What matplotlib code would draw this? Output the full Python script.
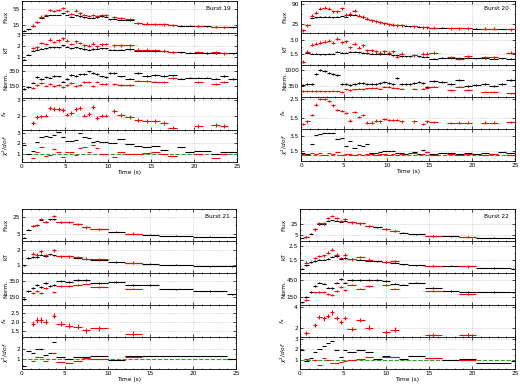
import numpy as np
import matplotlib.pyplot as plt
from matplotlib.ticker import AutoMinorLocator

plt.rcParams['font.family'] = 'DejaVu Sans'
plt.rcParams['font.size'] = 4.2
plt.rcParams['axes.linewidth'] = 0.6
plt.rcParams['xtick.direction'] = 'in'
plt.rcParams['ytick.direction'] = 'in'
plt.rcParams['xtick.top'] = True
plt.rcParams['ytick.right'] = True
plt.rcParams['xtick.major.size'] = 2.0
plt.rcParams['ytick.major.size'] = 2.0
plt.rcParams['xtick.minor.size'] = 1.0
plt.rcParams['ytick.minor.size'] = 1.0
plt.rcParams['xtick.major.width'] = 0.5
plt.rcParams['ytick.major.width'] = 0.5
plt.rcParams['xtick.minor.width'] = 0.4
plt.rcParams['ytick.minor.width'] = 0.4
plt.rcParams['xtick.major.pad'] = 1.5
plt.rcParams['ytick.major.pad'] = 1.5

# ---------------- Burst 19 ----------------
b19_edges = [0, 0.5, 1, 1.5, 2, 2.5, 3, 3.5, 4, 4.5, 5, 5.5, 6, 6.5, 7, 7.5, 8, 8.5,
             9, 9.5, 10, 10.5, 11, 12, 13, 14, 15, 16, 17, 18, 19, 20, 21, 22, 23, 24, 25]
b19_red_bins = list(range(2, 20)) + [21, 22, 23, 24, 25, 26, 27, 28, 31, 33, 34]
b19_flux_k = [0, 4, 12.5, 21, 32, 37.5, 40, 40, 40, 44, 40, 36, 39, 37, 34, 32, 32.5, 34, 36.7, 36,
              29, 30, 27.5, 26.7, 19, 18, 16.7, 16, 14, 13.3, 12.5, 11.7, 11, 10, 9, 9]
b19_flux_r = [13, 22, 36, 40, 52, 50, 52, 58, 50, 42, 51, 44, 40, 37.5, 40, 38, 40, 40,
              34, 32, 29, 19, 18, 16.7, 16, 14, 11.7, 10, 9]
b19_kt_k = [0.75, 1.2, 1.6, 1.68, 1.77, 1.83, 1.9, 1.92, 1.9, 2.08, 1.95, 1.83, 1.92, 1.8, 1.74,
            1.68, 1.74, 1.77, 1.83, 1.8, 1.68, 1.68, 1.68, 1.74, 1.6, 1.58, 1.55, 1.52, 1.43,
            1.43, 1.4, 1.4, 1.37, 1.37, 1.34, 1.34]
b19_kt_r = [1.83, 1.9, 2.3, 2.2, 2.6, 2.4, 2.55, 2.72, 2.5, 2.2, 2.45, 2.3, 2.08, 2.05, 2.23, 1.98,
            2.17, 2.2, 2.08, 2.08, 2.08, 1.68, 1.68, 1.65, 1.6, 1.46, 1.46, 1.43, 1.34]
b19_norm_k = [98, 126, 193, 274, 240, 269, 264, 283, 279, 207, 245, 302, 288, 307, 317, 350, 326,
              312, 279, 269, 326, 331, 279, 250, 331, 288, 302, 288, 293, 250, 264, 264, 264,
              250, 288, 245]
b19_norm_r = [112, 160, 183, 150, 169, 145, 160, 126, 155, 183, 145, 160, 202, 207, 145, 207, 169,
              169, 169, 160, 155, 221, 212, 207, 202, 255, 198, 169, 198]
b19_fa_r = [1.58, 1.96, 2.0, 2.06, 2.52, 2.48, 2.48, 2.38, 2.12, 2.2, 2.48, 2.52, 2.06, 2.17, 2.58,
            1.92, 2.06, 2.06, 2.33, 2.1, 1.96, 1.79, 1.75, 1.73, 1.62, 1.33, 1.42, 1.48, 1.44]
b19_chi_k = [1.89, 0.94, 1.25, 2.17, 2.65, 2.75, 2.65, 2.84, 3.13, 2.59, 2.27, 2.27, 2.37, 3.0,
             2.59, 2.49, 2.17, 2.27, 2.11, 2.11, 2.05, 2.05, 2.43, 1.95, 1.73, 1.7, 1.79, 1.41,
             0.78, 1.63, 1.16, 1.25, 1.32, 1.0, 1.22, 1.16]
b19_chi_r = [0.59, 1.22, 1.63, 0.81, 0.9, 1.48, 1.16, 0.68, 1.22, 1.16, 0.9, 1.54, 1.63, 1.22, 1.89,
             1.54, 1.0, 1.0, 0.68, 1.16, 1.0, 1.0, 1.1, 1.16, 1.0, 0.75, 1.0, 0.59, 1.0]

# ---------------- Burst 20 ----------------
b20_edges = [0, 0.5, 1, 1.5, 2, 2.5, 3, 3.5, 4, 4.5, 5, 5.5, 6, 6.5, 7, 7.5, 8, 8.5, 9, 9.5, 10,
             10.5, 11, 11.5, 12, 12.5, 13, 13.5, 14, 14.5, 15, 16, 17, 18, 19, 20, 21, 22, 23, 24, 25]
b20_red_bins = list(range(0, 24)) + [26, 28, 29, 30, 32, 33, 34, 36, 37, 39]
b20_flux_k = [3, 19.5, 44, 47, 49, 49, 49, 47, 49, 51, 49, 54, 55, 51, 47, 41.5, 37, 34, 30.5, 27,
              24, 22, 20.6, 19.5, 18.4, 16, 16, 15, 14, 13, 12, 12, 10.7, 9.6, 9.6, 8.5, 8.5,
              7.4, 7.4, 6.3]
b20_flux_r = [3, 19.5, 51.5, 62.5, 74.5, 79, 74.5, 66, 66, 77, 55, 58, 69, 51.5, 49, 41.5, 37, 34,
              30.5, 27, 24, 22, 20.6, 19.5, 16, 14, 13, 12, 10.7, 9.6, 9.6, 8.5, 7.4, 6.3]
b20_kt_k = [0.77, 1.67, 1.57, 1.57, 1.5, 1.5, 1.57, 1.57, 1.77, 1.67, 1.67, 1.77, 1.77, 1.73, 1.67,
            1.6, 1.57, 1.57, 1.5, 1.57, 1.5, 1.43, 1.4, 1.33, 1.33, 1.33, 1.4, 1.33, 1.27, 1.27,
            1.07, 1.17, 1.17, 1.1, 1.17, 1.1, 1.1, 1.07, 1.1, 1.07]
b20_kt_r = [0.77, 1.77, 2.5, 2.57, 2.67, 2.77, 2.9, 2.67, 3.07, 2.73, 2.83, 2.23, 2.57, 2.17, 2.43,
            1.9, 1.9, 1.83, 1.67, 1.83, 1.67, 1.83, 1.27, 1.57, 1.4, 1.57, 1.57, 1.67, 1.23, 1.07,
            1.33, 1.23, 1.23, 1.67]
b20_norm_k = [377, 418, 418, 824, 1000, 959, 892, 824, 783, 418, 445, 390, 445, 458, 458, 418, 445,
              418, 485, 512, 458, 418, 688, 418, 418, 418, 485, 512, 458, 323, 553, 512, 418, 594,
              350, 377, 445, 350, 418, 580]
b20_norm_r = [147, 147, 147, 147, 147, 133, 133, 160, 133, 120, 215, 187, 215, 242, 215, 255, 282,
              282, 242, 323, 323, 282, 255, 242, 242, 242, 255, 323, 187, 323, 187, 120, 120, 52]
b20_fa_r = [1.17, 1.3, 1.67, 2.22, 2.5, 2.5, 2.41, 2.17, 1.94, 1.85, 1.76, 1.35, 1.8, 1.54, 1.67,
            1.24, 1.24, 1.35, 1.3, 1.43, 1.39, 1.39, 1.39, 1.3, 1.3, 1.17, 1.3, 1.28, 1.2, 1.24,
            1.24, 1.24, 1.24, 1.28]
b20_chi_k = [1.29, 1.2, 2.44, 3.63, 3.71, 3.84, 3.93, 3.93, 3.12, 3.2, 2.14, 2.86, 1.93, 2.35, 2.14,
             2.48, 1.29, 1.29, 1.37, 1.5, 1.59, 1.5, 1.29, 1.29, 1.2, 1.29, 1.37, 1.16, 1.71, 1.37,
             1.2, 1.29, 1.29, 1.2, 1.29, 1.16, 1.29, 1.2, 1.37, 1.29]
b20_chi_r = [1.2, 1.07, 1.29, 1.2, 1.29, 1.07, 1.29, 1.16, 1.37, 1.07, 1.2, 1.16, 1.07, 1.16, 1.07,
             1.16, 1.2, 1.07, 1.2, 1.16, 1.07, 1.2, 1.07, 1.16, 1.29, 1.2, 1.37, 1.07, 1.2, 1.07,
             1.16, 1.07, 1.16, 1.07]

# ---------------- Burst 21 ----------------
b21_edges = [0, 0.5, 1, 1.5, 2, 2.5, 3, 3.5, 4, 5, 6, 7, 8, 10, 12, 14, 16, 20, 24, 25]
b21_red_bins = [2, 3, 4, 5, 7, 8, 9, 10, 11, 12, 14]
b21_flux_k = [1.15, 10.4, 14.6, 15.4, 21.2, 19.2, 22.3, 22.3, 18.5, 18.8, 16.5, 12.7, 10.8, 8.1,
              5.8, 4.6, 3.5, 2.3, 1.9]
b21_flux_r = [14.6, 15.4, 22.3, 19.2, 26.2, 18.5, 19.2, 16.5, 12.7, 10.8, 5.8]
b21_kt_k = [0.95, 1.47, 1.53, 1.53, 1.7, 1.58, 1.72, 1.65, 1.58, 1.58, 1.49, 1.42, 1.35, 1.19,
            1.14, 1.07, 1.0, 0.88, 0.88]
b21_kt_r = [1.77, 1.7, 1.93, 1.65, 2.0, 1.6, 1.6, 1.53, 1.42, 1.37, 1.14]
b21_norm_k = [117, 221, 263, 304, 275, 329, 283, 296, 346, 338, 358, 358, 329, 338, 296, 304, 242,
              221, 179]
b21_norm_r = [192, 221, 200, 263, 204, 283, 283, 304, 317, 275, 254]
b21_fa_r = [1.9, 2.1, 2.1, 2.0, 2.35, 1.9, 1.77, 1.71, 1.52, 1.62, 1.33]
b21_chi_k = [0.39, 1.79, 1.55, 2.0, 2.0, 1.45, 1.55, 2.6, 1.24, 1.03, 1.24, 1.18, 1.3, 0.94, 1.3,
             1.33, 1.3, 1.3, 1.03]
b21_chi_r = [0.85, 1.18, 1.24, 0.88, 1.6, 0.79, 0.7, 0.88, 1.09, 1.03, 1.24]

# ---------------- Burst 22 ----------------
b22_edges = [0, 0.5, 1, 1.5, 2, 2.5, 3, 3.5, 4, 4.5, 5, 5.5, 6.5, 7.5, 8.5, 9.5, 10.5, 11.5, 12.5,
             14.5, 16.5, 18.5, 20.5, 24.5, 25]
b22_red_bins = [1, 3, 4, 5, 6, 7, 8, 9, 10, 11, 12, 13, 15, 16, 19, 21]
b22_flux_k = [0.15, 2, 8, 15.3, 24.4, 24.4, 31, 32.3, 31, 29.2, 31, 28, 26.2, 21.4, 19, 15.9, 12.9,
              9.2, 6.8, 3.8, 3.2, 2, 0.8, 0.15]
b22_flux_r = [2, 15.3, 26.2, 26.2, 35.3, 40, 35.3, 30.5, 34, 28, 26.2, 21.4, 15.9, 12.9, 3.8, 2]
b22_kt_k = [0.84, 1.09, 1.33, 1.4, 1.5, 1.5, 1.57, 1.7, 1.74, 1.57, 1.62, 1.57, 1.5, 1.43, 1.38,
            1.33, 1.26, 1.16, 1.09, 1.04, 1.04, 1.01, 0.89, 0.84]
b22_kt_r = [1.28, 1.62, 1.77, 1.82, 2.01, 2.23, 1.87, 1.62, 1.87, 1.52, 1.7, 1.5, 1.33, 1.38, 1.04,
            1.01]
b22_norm_k = [48, 150, 240, 348, 408, 390, 318, 312, 408, 468, 408, 450, 450, 450, 450, 432, 390,
              372, 408, 312, 258, 240, 240, 228]
b22_norm_r = [90, 228, 240, 240, 198, 180, 252, 330, 270, 372, 300, 348, 360, 300, 258, 192]
b22_fa_r = [1.52, 2.23, 3.03, 2.87, 3.13, 3.45, 2.94, 2.55, 2.94, 1.84, 2.71, 2.0, 1.58, 1.81,
            1.32, 1.32]
b22_chi_k = [1.94, 0.84, 1.16, 1.72, 2.03, 2.34, 2.63, 2.81, 1.91, 1.31, 1.91, 1.78, 1.94, 1.72,
             1.09, 1.38, 1.31, 1.09, 1.38, 1.22, 1.0, 1.06, 0.69, 0.84]
b22_chi_r = [1.09, 1.0, 0.53, 1.16, 1.0, 0.69, 0.69, 0.75, 0.91, 0.94, 1.06, 1.31, 1.31, 1.25,
             1.16, 0.94]

# typical 1-sigma errors: (black, red) for flux, kT, norm, fa
b19_errs = [(1.0, 3.0), (0.05, 0.12), (12, 12), (0, 0.12)]
b20_errs = [(1.5, 5.0), (0.05, 0.15), (40, 30), (0, 0.06)]
b21_errs = [(0.5, 1.2), (0.05, 0.10), (12, 12), (0, 0.15)]
b22_errs = [(0.8, 2.0), (0.04, 0.10), (15, 15), (0, 0.20)]

ylabels = ['Flux', 'kT', 'Norm.', '$f_a$', r'$\chi^2/dof$']
label_x = [-0.062, -0.062, -0.062, -0.062, -0.05]

W, H = 520, 385


def draw_burst(fig, box, name, edges, red_bins, series, errs, ylims, yticks):
    """box = (left, right, top, bottom) in pixels from the top-left corner"""
    edges = np.asarray(edges, dtype=float)
    t = 0.5 * (edges[1:] + edges[:-1])
    dt = 0.5 * np.diff(edges)
    rb = np.asarray(red_bins)
    left, right, top, bottom = box
    hh = (bottom - top) / 5.0
    axes = []
    for i in range(5):
        ax = fig.add_axes([left / W, 1 - (top + (i + 1) * hh) / H,
                           (right - left) / W, hh / H])
        black, red = series[i]
        ek, er = errs[i] if i < 4 else (0, 0)
        if black is not None:
            ax.errorbar(t, black, yerr=ek if ek else None, xerr=dt, fmt='none',
                        ecolor='black', elinewidth=0.8, capsize=0, zorder=3)
        ax.errorbar(t[rb], red, yerr=er if er else None, xerr=dt[rb], fmt='none',
                    ecolor='red', elinewidth=0.8, capsize=0, zorder=4)
        if i == 4:
            ax.axhline(1.0, color='#2ca02c', ls='--', lw=0.8, zorder=2)
        ax.set_xlim(0, 25)
        ax.set_ylim(*ylims[i])
        ax.set_yticks(yticks[i])
        ax.set_xticks([0, 5, 10, 15, 20, 25])
        ax.xaxis.set_minor_locator(AutoMinorLocator(5))
        ax.yaxis.set_minor_locator(AutoMinorLocator(2))
        ax.grid(True, which='major', ls=':', lw=0.5, color='0.7')
        ax.set_ylabel(ylabels[i], labelpad=1)
        ax.yaxis.set_label_coords(label_x[i], 0.5)
        if i < 4:
            ax.tick_params(labelbottom=False)
        else:
            ax.set_xlabel('Time (s)', labelpad=1)
        axes.append(ax)
    axes[0].text(0.97, 0.78, name, transform=axes[0].transAxes, ha='right', va='center')
    return axes


fig = plt.figure(figsize=(W / 100, H / 100), dpi=100)

draw_burst(fig, (22, 237, 1, 162), 'Burst 19', b19_edges, b19_red_bins,
           [(b19_flux_k, b19_flux_r), (b19_kt_k, b19_kt_r), (b19_norm_k, b19_norm_r),
            (None, b19_fa_r), (b19_chi_k, b19_chi_r)], b19_errs,
           [(-6, 75), (0.23, 3.2), (-21, 436), (1.19, 3.15), (0.21, 3.32)],
           [[15, 55], [1, 2, 3], [150, 350], [2, 3], [1, 2, 3]])

draw_burst(fig, (301, 515, 1, 161), 'Burst 20', b20_edges, b20_red_bins,
           [(b20_flux_k, b20_flux_r), (b20_kt_k, b20_kt_r), (b20_norm_k, b20_norm_r),
            (None, b20_fa_r), (b20_chi_k, b20_chi_r)], b20_errs,
           [(-6, 101), (0.43, 3.67), (-97, 1203), (0.89, 2.63), (0.27, 4.39)],
           [[25, 90], [1.5, 3.0], [350, 1000], [1.5, 2.5], [1.5, 3.5]])

draw_burst(fig, (22, 236, 209, 369), 'Burst 21', b21_edges, b21_red_bins,
           [(b21_flux_k, b21_flux_r), (b21_kt_k, b21_kt_r), (b21_norm_k, b21_norm_r),
            (None, b21_fa_r), (b21_chi_k, b21_chi_r)], b21_errs,
           [(-2.7, 33.8), (0.42, 2.65), (46, 450), (1.13, 2.96), (0.12, 3.06)],
           [[5, 25], [1, 2], [150, 350], [1.5, 2.0, 2.5], [1, 2]])

draw_burst(fig, (300, 515, 209, 369), 'Burst 22', b22_edges, b22_red_bins,
           [(b22_flux_k, b22_flux_r), (b22_kt_k, b22_kt_r), (b22_norm_k, b22_norm_r),
            (None, b22_fa_r), (b22_chi_k, b22_chi_r)], b22_errs,
           [(-5.3, 52), (0.52, 2.87), (0, 582), (1.1, 4.16), (0.12, 3.19)],
           [[5, 25], [1.5, 2.5], [150, 450], [2, 4], [1, 2, 3]])

fig.savefig('out.png', dpi=100)
